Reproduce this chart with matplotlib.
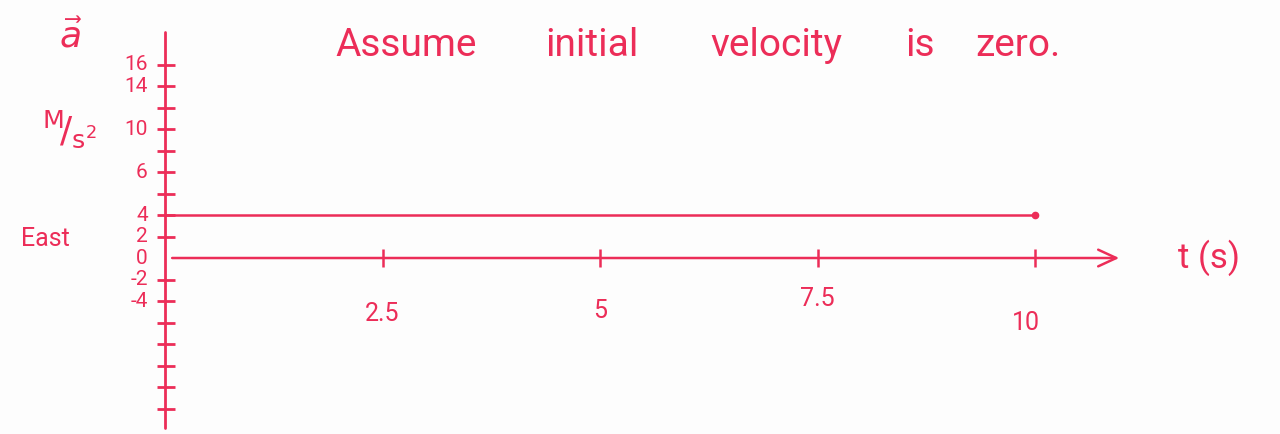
import matplotlib
matplotlib.use("Agg")
import matplotlib.pyplot as plt

# acceleration vs time, constant 4 m/s^2 east for 10 s
t_vals = [0, 10]
a_vals = [4, 4]

# time axis ticks and their written labels
x_ticks = [2.5, 5, 7.5, 10]
x_tick_labels = ["2.5", "5", "7.5", "10"]

# every tick mark on the acceleration axis (units of m/s^2)
y_ticks = [-14, -12, -10, -8, -6, -4, -2, 2, 4, 6, 8, 10, 12, 14, 16, 18]
# only some ticks carry a written number
y_label_pos = [18, 16, 12, 8, 4, 2, 0, -2, -4]
y_label_text = ["16", "14", "10", "6", "4", "2", "0", "-2", "-4"]

title_words = ["Assume", "initial", "velocity", "is", "zero."]

INK = "#ec2d58"
HAND = ["Roboto", "DejaVu Sans"]

fig = plt.figure(figsize=(12.8, 4.34), dpi=100)
fig.patch.set_facecolor("#fdfdfd")
ax = fig.add_axes([0, 0, 1, 1])
ax.set_facecolor("#fdfdfd")
ax.set_xlim(-1.897, 12.816)
ax.set_ylim(-16.37, 24.0)
ax.axis("off")

# axes
ax.plot([0, 0], [-15.8, 21.0], color=INK, lw=2.0, solid_capstyle="round")
ax.annotate("", xy=(11.0, 0), xytext=(0.05, 0),
            arrowprops=dict(arrowstyle="->,head_length=1.3,head_width=0.6",
                            color=INK, lw=1.8))

# tick marks
ax.hlines(y_ticks, -0.09, 0.12, color=INK, lw=2.0)
ax.vlines(x_ticks, -0.8, 0.8, color=INK, lw=1.8)

# written numbers on the axes
for v, s in zip(y_label_pos, y_label_text):
    ax.text(-0.2, v, s, color=INK, fontsize=15, family=HAND,
            ha="right", va="center")
label_y = [-5.2, -4.9, -3.8, -6.0]
for x, s, yy in zip(x_ticks, x_tick_labels, label_y):
    ax.text(x - (0.1 if s == "10" else 0), yy, s, color=INK, fontsize=18,
            family=HAND, ha="center", va="center")

# the acceleration line, ending with a dot at t = 10 s
ax.plot(t_vals, a_vals, color=INK, lw=1.8)
ax.plot(t_vals[-1], a_vals[-1], "o", color=INK, ms=4.5)

# axis names
ax.text(-1.08, 20.6, r"$\vec{a}$", color=INK, fontsize=26, ha="center", va="center")
ax.text(-1.1, 12.0, r"$^{\mathsf{M}}\!/_{\mathsf{s}^2}$", color=INK, fontsize=26,
        ha="center", va="center")
ax.text(-1.37, 1.8, "East", color=INK, fontsize=18, family=HAND,
        ha="center", va="center")
ax.text(12.0, 0.0, "t (s)", color=INK, fontsize=25, family=HAND,
        ha="center", va="center")

# note across the top, one word at a time
word_x = [(335 - 165) / 87, (545 - 165) / 87, (710 - 165) / 87,
          (905 - 165) / 87, (975 - 165) / 87]
for x, w in zip(word_x, title_words):
    ax.text(x, 19.8, w, color=INK, fontsize=28, family=HAND,
            ha="left", va="center")

fig.savefig("out.png", dpi=100, facecolor=fig.get_facecolor())
